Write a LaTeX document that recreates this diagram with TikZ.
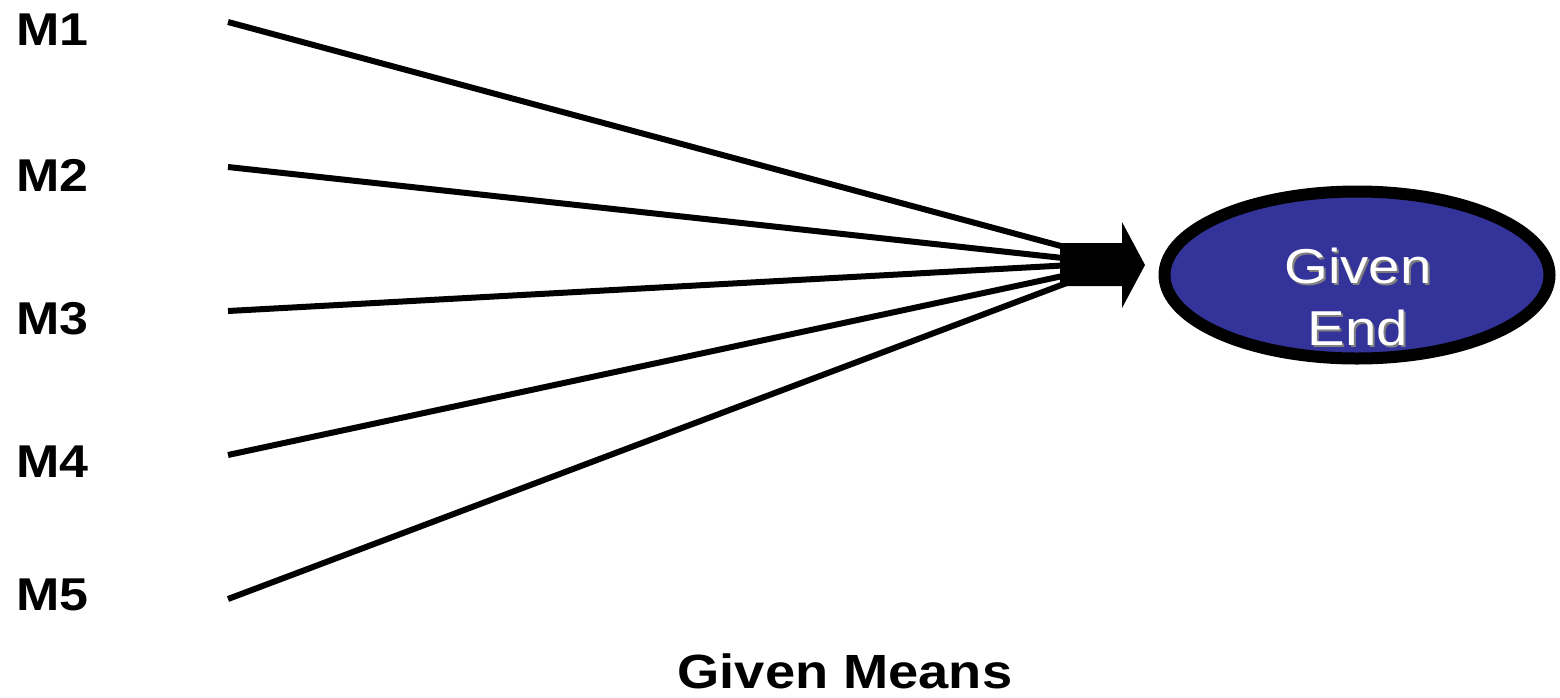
\documentclass[tikz,border=0pt]{standalone}
\usepackage{fontspec}
\setmainfont{Liberation Sans}
\usetikzlibrary{shapes.geometric}
\definecolor{endblue}{HTML}{333399}
\begin{document}
\begin{tikzpicture}[x=1pt,y=-1pt,
  mlabel/.style={anchor=west,inner sep=0pt,xscale=1.13,font=\fontsize{46}{50}\selectfont\bfseries},
  meansline/.style={line width=6pt},
  endtext/.style={align=center,inner sep=0pt,xscale=1.15,font=\fontsize{49}{62}\selectfont}]
\useasboundingbox (0,0) rectangle (1560,697);
\node[mlabel] (m1) at (16,30) {M1};
\node[mlabel] (m2) at (16,175) {M2};
\node[mlabel] (m3) at (16,319) {M3};
\node[mlabel] (m4) at (16,462) {M4};
\node[mlabel] (m5) at (16,595) {M5};
\coordinate (s1) at (228,22);
\coordinate (s2) at (228,167);
\coordinate (s3) at (228,311);
\coordinate (s4) at (228,455);
\coordinate (s5) at (228,599);
\coordinate (e1) at (1072,249);
\coordinate (e2) at (1072,259);
\coordinate (e3) at (1072,265);
\coordinate (e4) at (1072,274);
\coordinate (e5) at (1072,281);
\foreach \i in {1,...,5} \draw[meansline] (s\i) -- (e\i);
\fill (1060,243) -- (1122,243) -- (1122,222) -- (1145,265) -- (1122,308) -- (1122,286) -- (1060,286) -- cycle;
\node[ellipse,draw,line width=12pt,fill=endblue,minimum width=385pt,minimum height=167pt] (end) at (1357,275) {};
\node[endtext,text=gray] at (1360,299) {Given\\End};
\node[endtext,text=white] (endlabel) at (1358,297) {Given\\End};
\node[inner sep=0pt,xscale=1.13,font=\fontsize{48}{50}\selectfont\bfseries] (means) at (845,671) {Given Means};
\end{tikzpicture}
\end{document}
